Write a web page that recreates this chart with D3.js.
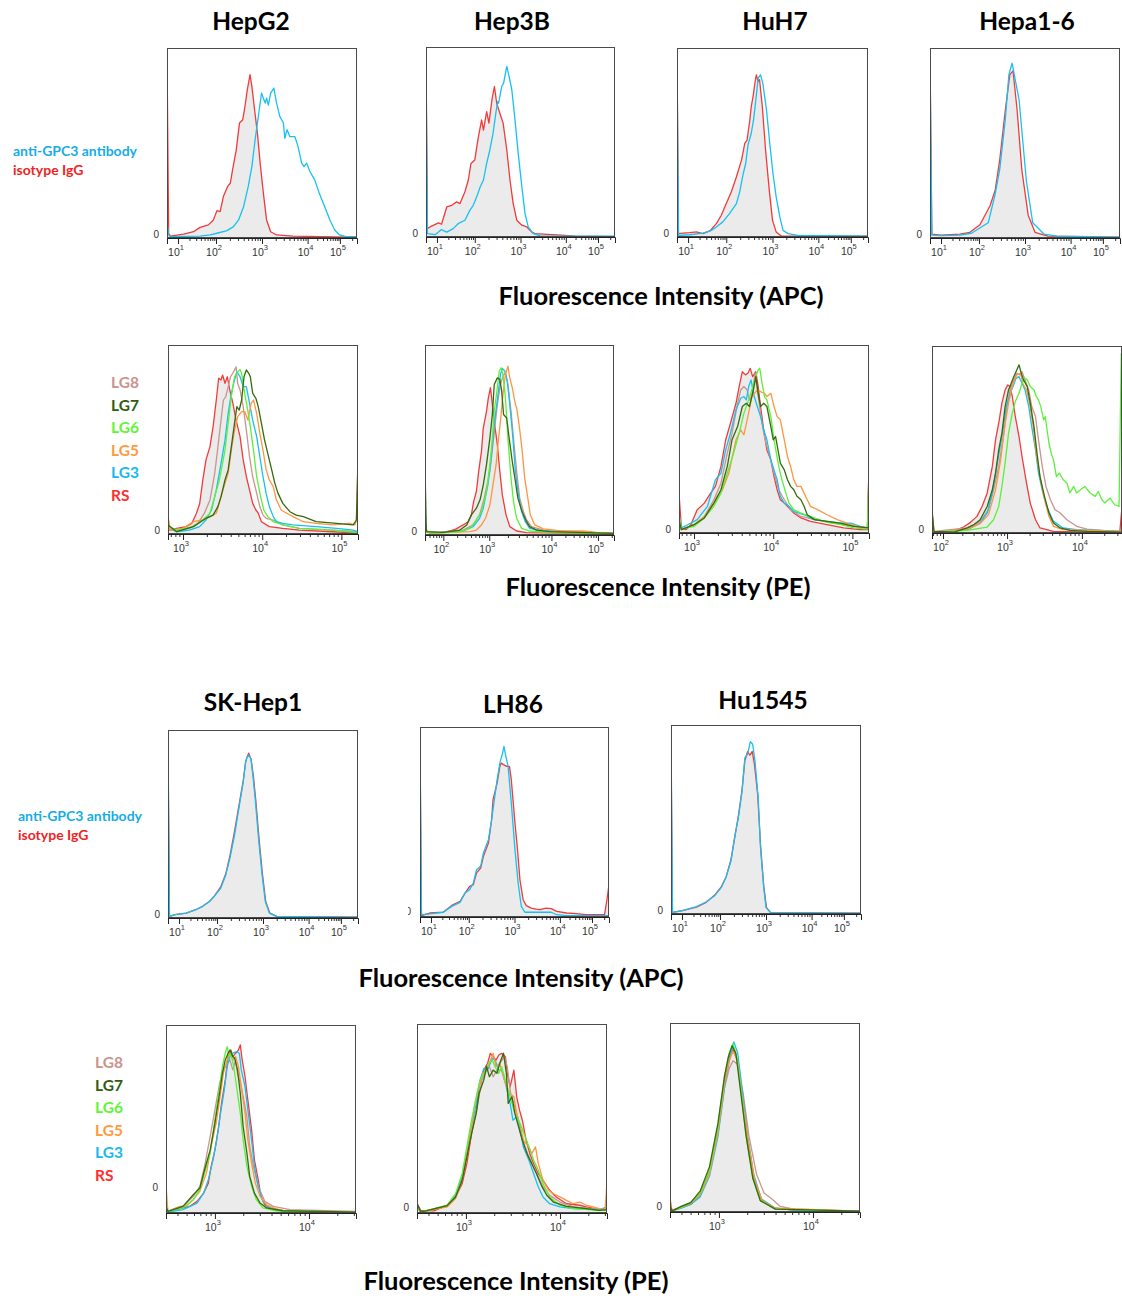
<!DOCTYPE html>
<html><head><meta charset="utf-8">
<script src="https://cdn.jsdelivr.net/npm/d3@7"></script>
<style>
html,body{margin:0;padding:0;background:#fff;}
svg{display:block;}
</style></head><body>
<script>
// Histogram traces: each point is [log10 fluorescence intensity, % of mode].

// ---- APC staining (anti-GPC3 antibody vs isotype IgG) ----
const hepg2Iso = [[0.7,96.5],[0.745,2.5],[0.79,1],[1.15,2],[1.41,3.3],[1.58,5.6],[1.8,6.9],[1.93,9.5],[2.02,14.4],[2.09,13.9],[2.16,21.8],[2.25,27],[2.31,28.8],[2.36,35.9],[2.44,46.4],[2.51,60.5],[2.58,62.2],[2.63,69.2],[2.68,78],[2.74,86],[2.78,79.8],[2.83,69.2],[2.9,55.2],[2.96,39.4],[3.03,23.6],[3.1,9.5],[3.19,3.3],[3.32,1.6],[3.68,1],[5.23,0.5],[5.42,0.5]];
const hepg2Anti = [[0.7,8.6],[0.745,1.6],[0.79,0.7],[1.58,1],[1.85,1.6],[2.02,2.5],[2.24,3.9],[2.38,6],[2.49,9.5],[2.6,16.5],[2.7,27],[2.78,37.6],[2.85,51.7],[2.92,64],[2.99,76.3],[3.03,73.6],[3.07,71],[3.1,73.6],[3.14,70],[3.19,76.3],[3.26,78.9],[3.32,71],[3.39,64],[3.47,60.5],[3.5,52.5],[3.55,57],[3.61,53.4],[3.72,53.4],[3.79,48.2],[3.87,39.4],[3.92,37.6],[3.98,39.4],[4.07,35],[4.22,30.6],[4.38,22.7],[4.53,16.5],[4.69,9.5],[4.84,4.2],[4.99,1.6],[5.15,0.7],[5.42,0.7]];
const hep3bIso = [[0.7,96],[0.74,4.4],[0.81,5.3],[1.04,7.4],[1.12,6.7],[1.26,15.8],[1.39,16.7],[1.52,18.5],[1.61,17.6],[1.74,23.8],[1.83,30],[1.9,38.7],[2.0,40.5],[2.08,52.8],[2.15,61.6],[2.19,56.3],[2.26,66],[2.31,59.9],[2.38,73],[2.43,79.2],[2.48,70.4],[2.55,65],[2.62,59.9],[2.7,45.8],[2.77,30],[2.84,17.6],[2.92,8.8],[3.03,6.2],[3.14,5.3],[3.25,2.6],[3.32,1.8],[3.61,1.4],[3.98,0.9],[4.28,0.4],[5.42,0.2]];
const hep3bAnti = [[0.7,90],[0.74,1.8],[0.95,1.2],[1.12,3.9],[1.26,2.6],[1.43,4.4],[1.56,7],[1.74,8.8],[1.87,14],[1.96,16.7],[2.04,21],[2.12,26.4],[2.19,30],[2.26,38.7],[2.33,45.8],[2.4,54.6],[2.46,65],[2.5,71.3],[2.52,70.4],[2.59,79.2],[2.63,81],[2.7,89.8],[2.75,84.5],[2.81,77.5],[2.88,61.6],[2.95,44],[3.03,26.4],[3.1,12.3],[3.17,5.3],[3.28,1.8],[3.45,0.5],[5.42,0.4]];
const huh7Iso = [[0.7,97],[0.74,1.8],[0.86,2.1],[1.04,2.3],[1.22,2.7],[1.39,1.8],[1.57,3.2],[1.74,7.1],[1.87,11.5],[2.0,17.7],[2.11,23.9],[2.22,31.9],[2.33,40.7],[2.4,49.6],[2.45,51.3],[2.51,62],[2.54,69],[2.58,74.3],[2.62,81.4],[2.65,85.8],[2.69,82.3],[2.72,83.2],[2.78,69],[2.85,46],[2.93,24.8],[3.0,8.8],[3.08,2.7],[3.2,0.4],[3.44,0.5],[5.42,0.4]];
const huh7Anti = [[0.7,95],[0.74,0.9],[1.04,1.2],[1.39,2.1],[1.61,3.5],[1.74,5.3],[1.91,8],[2.07,12.4],[2.22,17.7],[2.29,23.9],[2.36,32.7],[2.42,38.9],[2.47,48.7],[2.54,54.9],[2.59,62],[2.64,72.6],[2.69,84],[2.74,85.8],[2.79,81.4],[2.87,67.3],[2.94,49.6],[3.01,33.6],[3.08,21.2],[3.16,10.6],[3.23,3.5],[3.34,1.8],[3.55,0.9],[5.42,0.5]];
const hepa16Iso = [[0.7,96],[0.75,2],[1.0,1.5],[1.5,2],[1.76,3],[2.02,7],[2.24,17],[2.35,25],[2.45,41],[2.57,67],[2.67,86],[2.74,88],[2.83,67],[2.93,36],[3.07,12],[3.22,3],[3.5,1],[5.42,0.5]];
const hepa16Anti = [[0.7,95],[0.75,1.5],[1.0,1.2],[1.5,1.5],[1.8,2.5],[2.2,8],[2.35,23],[2.45,36],[2.57,62],[2.65,86],[2.72,92],[2.79,83],[2.87,73],[3.03,30],[3.17,8],[3.42,2],[3.7,1],[5.42,0.5]];
const skhep1Iso = [[0.7,90],[0.74,0.9],[0.89,1.8],[1.19,2.6],[1.44,4.4],[1.62,6.2],[1.8,8.8],[1.92,11.4],[2.08,16.5],[2.19,23.5],[2.28,33],[2.38,46],[2.45,56],[2.52,66],[2.57,73],[2.62,82.7],[2.65,85.4],[2.69,87.7],[2.74,84.5],[2.79,75.7],[2.84,63.4],[2.92,40.5],[2.99,22.9],[3.06,8.8],[3.15,2.6],[3.3,0.9],[5.42,0.5]];
const skhep1Anti = [[0.7,97],[0.74,0.9],[0.89,1.8],[1.19,2.6],[1.44,4.4],[1.62,6.2],[1.8,8.8],[1.92,11.4],[2.08,15.8],[2.19,22.9],[2.28,31.7],[2.38,44],[2.45,54.6],[2.52,65],[2.57,72.2],[2.62,82.7],[2.65,85.4],[2.69,86.6],[2.74,84.5],[2.78,75.7],[2.83,63.4],[2.91,40.5],[2.98,22.9],[3.05,8.8],[3.14,2.6],[3.3,0.9],[5.42,0.5]];
const lh86Iso = [[0.7,90],[0.74,0.7],[0.97,2.1],[1.33,2.6],[1.55,6.1],[1.77,8.2],[1.9,12.6],[2.02,16.1],[2.1,17],[2.17,23.2],[2.26,25.8],[2.32,31.9],[2.43,38.9],[2.5,51.2],[2.53,61.8],[2.62,70.5],[2.68,79.3],[2.71,81],[2.76,80.2],[2.83,79.3],[2.89,79.3],[2.93,72.3],[3.01,49.5],[3.06,37.2],[3.12,19.6],[3.19,9.1],[3.26,6],[3.37,4.7],[3.48,4.2],[3.56,3.9],[3.7,4.7],[3.81,4.4],[3.93,3],[4.21,2.1],[4.51,1.8],[4.82,1.2],[5.31,1.2],[5.37,9.1],[5.42,17]];
const lh86Anti = [[0.7,97],[0.74,1.2],[0.97,1.6],[1.33,2.5],[1.55,5.6],[1.77,7.7],[1.9,12.6],[2.02,14.4],[2.1,17.9],[2.17,24.9],[2.26,26.7],[2.32,33.7],[2.43,40.7],[2.5,51.2],[2.57,63.5],[2.62,72.3],[2.68,81],[2.74,86.3],[2.77,89.8],[2.81,84.6],[2.86,79.3],[2.93,60],[3.01,35.4],[3.08,17.9],[3.15,5.6],[3.23,2.5],[3.48,2.5],[3.7,2.6],[3.81,2.5],[3.93,1.2],[4.2,0.7],[5.42,0.7]];
const hu1545Iso = [[0.7,90],[0.74,0.9],[1.01,1.8],[1.38,3.6],[1.62,6],[1.86,10],[2.03,14.5],[2.13,19.4],[2.24,29],[2.33,42],[2.4,52],[2.48,66],[2.54,81],[2.6,86],[2.65,84],[2.7,86],[2.75,79],[2.82,63],[2.88,37],[2.95,15],[3.01,3.5],[3.1,0.7],[5.42,0.5]];
const hu1545Anti = [[0.7,97],[0.74,0.9],[1.01,1.8],[1.38,3.9],[1.62,6.2],[1.86,9.7],[2.03,14.1],[2.13,19.4],[2.24,28.2],[2.33,42.3],[2.4,51],[2.48,65],[2.54,82.7],[2.6,84.5],[2.66,91.2],[2.71,89.8],[2.76,81],[2.83,61.6],[2.88,35.2],[2.95,14.1],[3.0,3.5],[3.1,0.7],[5.42,0.5]];

// ---- PE staining, panel row A (HepG2 / Hep3B / HuH7 / Hepa1-6) ----
const hepg2RS = [[2.81,9],[2.83,2],[2.92,3],[3.04,3.9],[3.11,5.6],[3.17,11],[3.21,16],[3.25,28.6],[3.29,39.2],[3.34,46.2],[3.38,56.8],[3.42,70.9],[3.45,82.4],[3.48,81.5],[3.5,84.1],[3.53,79.7],[3.56,83.2],[3.59,76.2],[3.63,69.1],[3.67,60.3],[3.72,51.5],[3.76,39.2],[3.8,30.3],[3.84,23.3],[3.88,16.2],[3.92,12.7],[3.95,11],[3.99,6.5],[4.09,3.9],[4.26,3],[4.47,2.1],[4.89,1.2],[5.1,0.7],[5.21,0.7]];
const hepg2LG8 = [[2.81,3.9],[2.92,2],[3.08,3],[3.19,5.6],[3.27,11],[3.34,18],[3.4,32],[3.44,46],[3.48,60.3],[3.51,70.9],[3.54,72.7],[3.57,78],[3.6,83.2],[3.64,85.9],[3.67,88.5],[3.69,79.7],[3.72,76.2],[3.76,67.4],[3.8,55],[3.84,40.9],[3.88,30.3],[3.93,21.5],[3.97,14.5],[4.01,10],[4.05,8.3],[4.14,7.4],[4.26,4.8],[4.47,3],[4.89,2.1],[5.21,1.2]];
const hepg2LG3 = [[2.81,3],[2.92,1.2],[3.08,2],[3.21,3.9],[3.29,7.4],[3.36,12.7],[3.42,23.3],[3.48,37.4],[3.53,49.7],[3.57,63.8],[3.61,74.4],[3.65,81.5],[3.68,85.9],[3.72,83.2],[3.76,78],[3.8,78],[3.84,69.1],[3.88,60.3],[3.93,51.5],[3.97,40.9],[4.01,30.3],[4.05,21.5],[4.09,14.5],[4.14,9.2],[4.18,6.5],[4.26,5.6],[4.39,4.8],[4.68,3.9],[4.94,3],[5.15,2],[5.21,1.2]];
const hepg2LG6 = [[2.81,3.9],[2.92,2],[3.13,3.9],[3.25,7.4],[3.34,11],[3.4,19.8],[3.46,28.6],[3.53,44.4],[3.57,58.5],[3.61,72.7],[3.65,83.2],[3.69,85.9],[3.72,87.1],[3.74,85],[3.77,76.2],[3.81,67.4],[3.85,56.8],[3.89,44.4],[3.93,30.3],[3.98,19.8],[4.02,12.7],[4.07,9.2],[4.14,6.5],[4.26,4.8],[4.47,3],[4.89,2.1],[5.1,1.2],[5.21,0.7]];
const hepg2LG5 = [[2.81,11],[2.83,2],[3.0,3],[3.13,6.5],[3.25,7.4],[3.34,9.2],[3.42,11],[3.48,19.8],[3.53,26.8],[3.57,32.1],[3.61,44.4],[3.65,55],[3.69,62.1],[3.74,64.7],[3.78,64.7],[3.82,60.3],[3.86,69.1],[3.89,70.9],[3.93,63.8],[3.97,53.3],[4.01,44.4],[4.05,33.9],[4.09,28.6],[4.14,25],[4.18,18],[4.24,12.7],[4.31,11],[4.39,9.2],[4.52,6.5],[4.68,5.6],[4.89,4.8],[5.1,5.6],[5.17,4.8],[5.19,7.4],[5.21,42.7]];
const hepg2LG7 = [[2.81,4.8],[2.92,1.2],[3.13,3.9],[3.29,8.3],[3.38,10],[3.44,14.5],[3.48,19.8],[3.53,28.6],[3.57,33.9],[3.61,46.2],[3.65,58.5],[3.68,67.4],[3.71,65.6],[3.74,70.9],[3.77,83.2],[3.8,86.8],[3.83,85],[3.85,83.2],[3.88,74.4],[3.92,71.8],[3.95,67.4],[3.99,58.5],[4.03,49.7],[4.07,42.7],[4.12,33.9],[4.16,26.8],[4.2,21.5],[4.26,16.2],[4.35,11.8],[4.43,10],[4.52,9.2],[4.68,6.5],[4.94,5.6],[5.15,4.8],[5.19,7.4],[5.21,37.4]];

const hep3bRS = [[1.6,5],[1.65,1.4],[2.0,1.4],[2.14,2.1],[2.28,3.2],[2.43,5.3],[2.54,7],[2.61,10.6],[2.66,17.6],[2.72,22.9],[2.77,33.5],[2.83,44],[2.87,56.3],[2.94,65.1],[2.98,72.2],[3.02,77.5],[3.05,68.7],[3.08,59.9],[3.13,47.5],[3.17,33.5],[3.21,21.1],[3.27,10.6],[3.33,4.4],[3.44,2.1],[3.6,1.2],[5.35,0.7]];
const hep3bLG8 = [[1.6,2.6],[1.71,0.9],[2.43,2.6],[2.65,5.3],[2.79,10.6],[2.89,19.4],[3.01,33.5],[3.07,51],[3.13,68.7],[3.18,79.2],[3.22,83.6],[3.26,85.4],[3.3,79.2],[3.35,65.1],[3.39,51],[3.44,33.5],[3.49,19.4],[3.55,12.3],[3.6,7.9],[3.68,4.4],[3.87,2.6],[4.39,1.8],[5.35,0.9]];
const hep3bLG3 = [[1.6,2.6],[1.71,0.9],[2.43,2.1],[2.65,4.4],[2.79,8.8],[2.87,14.1],[2.97,26.4],[3.03,40.5],[3.08,58.1],[3.14,73.9],[3.18,84.5],[3.21,87.7],[3.25,86.3],[3.29,81],[3.33,68.7],[3.38,51],[3.42,33.5],[3.47,21.1],[3.52,12.3],[3.58,7],[3.65,3.5],[3.87,2.1],[5.35,0.9]];
const hep3bLG6 = [[1.6,3.5],[1.71,0.9],[2.36,1.8],[2.58,3.5],[2.72,7.9],[2.83,12.3],[2.94,22.9],[3.01,37],[3.05,51],[3.08,65.1],[3.13,77.5],[3.16,86.3],[3.19,88],[3.22,84.5],[3.26,72.2],[3.3,51],[3.35,29.9],[3.39,17.6],[3.44,8.8],[3.52,3.5],[3.65,2.1],[3.97,1.4],[5.35,0.7]];
const hep3bLG5 = [[1.6,2.6],[1.71,0.9],[2.58,1.8],[2.72,2.6],[2.83,5.3],[2.92,8.8],[3.01,15.8],[3.06,26.4],[3.11,37],[3.14,47.5],[3.18,59.9],[3.22,73.9],[3.26,84.5],[3.3,88.9],[3.33,82.7],[3.37,77.5],[3.42,68.7],[3.44,67],[3.48,58.1],[3.53,44],[3.57,29.9],[3.62,19.4],[3.66,10.6],[3.73,5.3],[3.87,3.2],[4.21,2.1],[4.68,2.1],[4.97,1.4],[5.35,0.9]];
const hep3bLG7 = [[1.6,35],[1.63,1.8],[2.0,1.4],[2.36,2.6],[2.51,5.3],[2.61,10.6],[2.72,14.1],[2.8,18.5],[2.87,26.4],[2.94,37],[3.01,51],[3.05,63.4],[3.08,79.2],[3.13,82.7],[3.17,81.9],[3.2,75.7],[3.23,63.4],[3.28,61.6],[3.32,51],[3.37,38.7],[3.42,28.2],[3.46,19.4],[3.51,14.1],[3.55,10.6],[3.6,7],[3.65,4.4],[3.76,2.6],[3.97,1.8],[5.35,0.9]];

const huh7RS = [[2.81,21],[2.84,2.7],[2.9,1.8],[2.96,4.4],[3.04,12.4],[3.13,15.9],[3.21,21.2],[3.27,24.8],[3.34,35.4],[3.4,49.6],[3.46,58.4],[3.53,69],[3.57,77.9],[3.61,85.8],[3.65,84.1],[3.68,85],[3.71,87.6],[3.74,83.2],[3.78,85.8],[3.81,77.9],[3.84,67.3],[3.88,54.9],[3.92,44.2],[3.97,38.9],[4.01,30.1],[4.05,23],[4.09,17.7],[4.14,15.9],[4.18,14.2],[4.26,10.6],[4.35,8],[4.47,6.2],[4.68,4.4],[4.89,2.7],[5.1,1.8],[5.19,1.8],[5.21,35]];
const huh7LG8 = [[2.81,7],[2.84,1.8],[3.0,4.4],[3.13,8.8],[3.25,17.7],[3.34,26.5],[3.42,42.5],[3.48,53.1],[3.55,69],[3.59,76.1],[3.63,77.9],[3.67,76.1],[3.7,70.8],[3.73,72.6],[3.77,85],[3.8,76.1],[3.84,63.7],[3.88,53.1],[3.92,46],[3.97,38.9],[4.01,31.9],[4.07,23],[4.14,17.7],[4.22,12.4],[4.35,8.8],[4.52,7.1],[4.77,5.3],[5.02,3.5],[5.19,2.7],[5.21,28.3]];
const huh7LG3 = [[2.81,10.6],[2.84,2.7],[2.92,4.4],[3.04,7.1],[3.17,14.2],[3.27,28.3],[3.34,31.9],[3.4,44.2],[3.46,53.1],[3.53,65.5],[3.59,71.7],[3.63,72.6],[3.66,70.8],[3.69,77.9],[3.72,81.4],[3.76,72.6],[3.8,67.3],[3.84,62],[3.88,54.9],[3.92,49.6],[3.97,38.9],[4.01,33.6],[4.05,28.3],[4.09,19.5],[4.14,15.9],[4.2,14.2],[4.26,11.5],[4.39,9.7],[4.52,7.1],[4.68,6.2],[4.85,5.3],[4.98,5.3],[5.1,3.5],[5.19,2.7],[5.21,31.9]];
const huh7LG6 = [[2.81,8.8],[2.84,2.1],[3.0,3.5],[3.13,8],[3.25,14.2],[3.34,21.2],[3.42,31.9],[3.5,42.5],[3.57,53.1],[3.63,63.7],[3.69,70.8],[3.73,76.1],[3.78,83.2],[3.81,86.7],[3.83,87.6],[3.86,79.6],[3.89,72.6],[3.92,70.8],[3.97,61.9],[4.01,49.6],[4.04,42.5],[4.07,35.4],[4.11,28.3],[4.16,21.2],[4.2,15.9],[4.26,12.4],[4.35,10.6],[4.52,8],[4.68,5.7],[4.85,4.4],[5.02,2.7],[5.19,2.1],[5.21,28.3]];
const huh7LG5 = [[2.81,8.8],[2.84,1.8],[3.0,4.4],[3.13,8.8],[3.25,15.9],[3.36,23],[3.44,31.9],[3.53,49.6],[3.59,54.9],[3.63,52.2],[3.68,61.9],[3.73,72.6],[3.8,76.1],[3.84,75.2],[3.89,74.3],[3.92,72.6],[3.97,74.3],[4.01,67.3],[4.05,61.9],[4.09,60.2],[4.14,49.6],[4.18,40.7],[4.22,35.4],[4.26,28.3],[4.3,24.8],[4.35,24.8],[4.39,21.2],[4.43,17.7],[4.47,14.2],[4.56,12.4],[4.68,9.7],[4.81,7.1],[4.98,4.4],[5.15,2.7],[5.19,2.7],[5.21,35]];
const huh7LG7 = [[2.81,7],[2.84,1.8],[3.0,4.4],[3.13,8],[3.25,15.9],[3.34,23],[3.42,35.4],[3.48,49.6],[3.55,56.6],[3.61,67.3],[3.66,69],[3.7,67.3],[3.75,76.1],[3.78,83.2],[3.81,74.3],[3.84,67.3],[3.88,69],[3.92,67.3],[3.97,56.6],[4.0,49.6],[4.03,51.3],[4.06,44.2],[4.09,37.2],[4.14,33.6],[4.18,28.3],[4.22,24.8],[4.26,23],[4.3,19.5],[4.35,17.7],[4.39,14.2],[4.43,9.7],[4.52,7.1],[4.68,6.2],[4.85,5.3],[5.02,3.5],[5.21,2.7]];

const hepa16RS = [[1.83,11.6],[1.86,0.9],[2.07,0.4],[2.22,1.8],[2.32,3.2],[2.43,5.7],[2.53,8.9],[2.61,14.2],[2.69,21.4],[2.77,35.6],[2.82,49.8],[2.87,58.7],[2.92,69.4],[2.97,76.5],[3.01,79.2],[3.04,78.3],[3.07,73],[3.11,62.3],[3.16,51.6],[3.2,40.9],[3.26,26.7],[3.31,16],[3.38,7.1],[3.44,2.7],[3.62,0.9],[4.07,0.5],[4.51,0.4],[4.54,14]];
const hepa16LG8 = [[1.83,7],[1.86,0.9],[2.38,2.7],[2.58,6.2],[2.71,12.5],[2.79,23.1],[2.87,35.6],[2.95,53.4],[3.0,67.6],[3.04,76.5],[3.09,81.9],[3.13,85.4],[3.17,84.5],[3.2,86.3],[3.24,81.9],[3.29,76.5],[3.33,67.6],[3.38,62.3],[3.42,49.8],[3.47,35.6],[3.52,24.9],[3.58,17.8],[3.64,12.5],[3.71,10.7],[3.8,7.1],[3.93,3.6],[4.07,2.1],[4.29,1.4],[4.51,0.9],[4.54,2]];
const hepa16LG3 = [[1.83,3.6],[1.86,0.5],[2.38,1.8],[2.58,5.3],[2.69,10.7],[2.77,21.4],[2.84,35.6],[2.92,51.6],[2.99,67.6],[3.04,74.7],[3.08,78.3],[3.12,82.7],[3.16,83.6],[3.2,80.1],[3.24,76.5],[3.29,67.6],[3.33,56.9],[3.38,44.5],[3.42,32],[3.47,23.1],[3.53,14.2],[3.62,6.2],[3.75,2.7],[3.93,1.8],[4.51,0.9],[4.54,2]];
const hepa16LG6 = [[1.83,2.7],[1.86,0.5],[2.38,1.4],[2.69,3.2],[2.79,7.1],[2.87,14.2],[2.92,24.9],[2.97,37.4],[3.02,53.4],[3.07,64.1],[3.11,70.3],[3.16,74.7],[3.2,80.1],[3.24,82.7],[3.27,81.9],[3.31,78.3],[3.36,76.5],[3.39,73],[3.42,71.2],[3.45,67.6],[3.49,60.5],[3.51,62.3],[3.56,48],[3.59,42.7],[3.62,39.1],[3.66,30.2],[3.7,32],[3.75,28.5],[3.8,26.7],[3.84,21.4],[3.89,24.9],[3.93,21.4],[3.98,23.1],[4.04,24.9],[4.11,21.4],[4.18,19.6],[4.22,22.2],[4.27,17.8],[4.31,16],[4.38,18.7],[4.44,15.1],[4.5,14.2],[4.53,96],[4.54,96]];
const hepa16LG5 = [[1.83,3.6],[1.86,0.5],[2.38,2.1],[2.58,5],[2.71,9.8],[2.82,23.1],[2.9,39.1],[2.97,58.7],[3.02,69.4],[3.08,80.1],[3.13,84.5],[3.18,85.4],[3.21,80.1],[3.26,76.5],[3.3,69.4],[3.35,56.9],[3.39,42.7],[3.44,30.2],[3.49,19.6],[3.56,8.9],[3.62,3.6],[3.75,1.8],[4.51,0.9],[4.54,2]];
const hepa16LG7 = [[1.83,12.5],[1.86,0.9],[2.17,0.5],[2.38,2.7],[2.48,4.4],[2.58,7.1],[2.69,14.2],[2.77,23.1],[2.82,32],[2.87,44.5],[2.92,53.4],[2.97,67.6],[3.02,76.5],[3.09,83.6],[3.13,87.2],[3.16,89.9],[3.19,85.4],[3.22,81.9],[3.27,78.3],[3.31,69.4],[3.36,56.9],[3.4,42.7],[3.44,30.2],[3.5,19.6],[3.56,10.7],[3.62,5.3],[3.71,2.7],[3.84,1.4],[4.07,0.9],[4.54,0.4]];

// ---- PE staining, panel row B (SK-Hep1 / LH86 / Hu1545) ----
const skhep1RS = [[2.48,5.3],[2.5,0.9],[2.59,1.8],[2.66,2.7],[2.73,3.5],[2.81,6.2],[2.88,10.6],[2.93,15.9],[2.96,24.8],[3.0,33.6],[3.04,46],[3.07,58.4],[3.11,70.8],[3.14,83.2],[3.17,86.7],[3.19,83.2],[3.22,85],[3.25,86.7],[3.27,89.4],[3.29,81.4],[3.32,72.6],[3.35,60.2],[3.39,44.2],[3.42,28.3],[3.46,17.7],[3.49,8.8],[3.53,4.4],[3.58,2.7],[3.65,1.8],[3.8,0.9],[4.5,0.5]];
const skhep1LG8 = [[2.48,4.4],[2.5,0.9],[2.59,2.7],[2.66,3.5],[2.77,8.8],[2.84,14.2],[2.89,24.8],[2.95,40.7],[3.0,54.9],[3.05,69],[3.09,76.1],[3.12,78.8],[3.16,81.4],[3.19,76.1],[3.22,81.4],[3.24,74.3],[3.28,67.3],[3.34,51.3],[3.37,35.4],[3.41,24.8],[3.46,14.2],[3.53,6.2],[3.62,3.5],[3.8,1.8],[4.5,0.9]];
const skhep1LG3 = [[2.48,3.5],[2.5,0.5],[2.66,1.8],[2.81,5.3],[2.88,10.6],[2.93,17.7],[2.98,28.3],[3.02,38.9],[3.06,53.1],[3.1,65.5],[3.13,77.9],[3.16,83.2],[3.19,85],[3.23,85.8],[3.26,85],[3.28,76.1],[3.32,67.3],[3.35,54.9],[3.39,38.9],[3.42,24.8],[3.46,14.2],[3.51,6.2],[3.58,2.7],[3.72,0.9],[4.5,0.5]];
const skhep1LG6 = [[2.48,4.4],[2.5,0.9],[2.66,2.7],[2.77,7.1],[2.84,12.4],[2.89,21.2],[2.95,31.9],[3.0,49.6],[3.05,67.3],[3.08,77.9],[3.11,85],[3.13,88.5],[3.15,83.2],[3.17,85],[3.2,77.9],[3.23,67.3],[3.27,53.1],[3.3,38.9],[3.34,24.8],[3.39,14.2],[3.44,7.1],[3.51,2.7],[3.65,1.2],[4.5,0.5]];
const skhep1LG5 = [[2.48,15],[2.5,0.9],[2.56,2.1],[2.63,3.5],[2.7,3.9],[2.77,7.1],[2.84,11.5],[2.91,21.2],[2.96,35.4],[3.02,49.6],[3.06,63.7],[3.09,74.3],[3.13,81.4],[3.16,85],[3.19,81.4],[3.22,83.2],[3.25,77.9],[3.28,67.3],[3.32,53.1],[3.35,38.9],[3.39,26.5],[3.43,15.9],[3.48,8.8],[3.55,4.4],[3.62,2.7],[3.72,1.4],[3.9,0.9],[4.5,0.5]];
const skhep1LG7 = [[2.48,3.5],[2.5,0.9],[2.66,3.5],[2.77,9.7],[2.84,13.3],[2.89,23],[2.95,33.6],[3.0,47.8],[3.05,63.7],[3.08,74.3],[3.11,81.4],[3.14,85],[3.16,86.7],[3.19,83.2],[3.21,82.3],[3.24,76.1],[3.27,63.7],[3.3,46],[3.34,31.9],[3.37,19.5],[3.42,10.6],[3.48,5.3],[3.55,2.7],[3.72,1.2],[4.5,0.5]];

const lh86RS = [[2.48,5],[2.52,1.4],[2.66,1.1],[2.8,4.1],[2.89,8.5],[2.96,15.5],[3.01,26.1],[3.06,42],[3.11,54.4],[3.14,66.8],[3.19,75.6],[3.23,79.2],[3.26,84.5],[3.29,82.7],[3.32,80.9],[3.35,83.6],[3.38,84.5],[3.42,82.7],[3.44,73.9],[3.47,66.8],[3.51,75.6],[3.54,61.5],[3.57,54.4],[3.6,49.1],[3.64,38.5],[3.68,31.4],[3.72,26.1],[3.77,20.8],[3.82,17.3],[3.89,12],[3.96,8.5],[4.07,4.9],[4.21,4.1],[4.28,3.2],[4.42,1.8],[4.48,1.4],[4.5,3.2]];
const lh86LG8 = [[2.48,4.1],[2.52,0.5],[2.8,3.9],[2.89,8.8],[2.96,18.2],[3.01,29.7],[3.06,42],[3.12,56.2],[3.17,70.3],[3.22,75.6],[3.25,77.4],[3.29,72.1],[3.33,75.6],[3.36,79.2],[3.41,82.7],[3.44,77.4],[3.48,61.5],[3.51,58],[3.55,50.9],[3.58,42],[3.63,35],[3.67,29.7],[3.72,24.4],[3.77,19.1],[3.82,13.8],[3.89,9.4],[4.0,5.8],[4.14,3.2],[4.35,2.3],[4.5,1.8]];
const lh86LG3 = [[2.48,3.2],[2.52,0.5],[2.8,3.5],[2.89,9.4],[2.96,19.1],[3.01,31.4],[3.06,45.6],[3.11,58],[3.15,70.3],[3.19,76.5],[3.23,75.6],[3.28,81.8],[3.31,80.9],[3.35,75.6],[3.38,75.6],[3.43,66.8],[3.47,58],[3.5,49.1],[3.54,50.9],[3.58,43.8],[3.61,35],[3.67,27.9],[3.72,20.8],[3.77,13.8],[3.82,8.5],[3.89,4.9],[4.0,3.2],[4.14,2.3],[4.42,1.8],[4.5,3.2]];
const lh86LG6 = [[2.48,3.2],[2.52,0.5],[2.8,4.1],[2.89,10.2],[2.96,20.8],[3.01,35],[3.06,49.1],[3.11,61.5],[3.15,70.3],[3.2,73.9],[3.24,79.2],[3.28,80.9],[3.31,77.4],[3.35,73.9],[3.38,77.4],[3.42,70.3],[3.45,65],[3.49,58],[3.52,52.7],[3.56,49.1],[3.59,45.6],[3.63,40.3],[3.67,35],[3.72,27.9],[3.77,22.6],[3.82,15.5],[3.89,8.5],[4.0,4.1],[4.14,2.3],[4.42,1.4],[4.5,1.4]];
const lh86LG5 = [[2.48,4.1],[2.52,0.5],[2.8,3.2],[2.89,7.6],[2.96,17.3],[3.01,31.4],[3.05,42],[3.09,56.2],[3.13,65],[3.18,73.9],[3.22,75.6],[3.25,79.2],[3.29,84.5],[3.32,77.4],[3.36,79.2],[3.39,73.9],[3.43,66.8],[3.47,63.3],[3.51,61.5],[3.54,52.7],[3.58,45.6],[3.61,38.5],[3.67,35],[3.7,31.4],[3.74,35],[3.77,26.1],[3.82,17.3],[3.88,12],[3.93,10.2],[4.0,8.5],[4.07,6.7],[4.14,4.9],[4.21,5.8],[4.28,4.1],[4.35,3.2],[4.42,2.3],[4.48,1.8],[4.5,16.4]];
const lh86LG7 = [[2.48,5],[2.52,0.5],[2.8,3.9],[2.89,8.5],[2.96,17.3],[3.01,29.7],[3.06,42],[3.11,52.7],[3.14,63.3],[3.19,70.3],[3.22,77.4],[3.25,72.1],[3.29,75.6],[3.33,73.9],[3.36,79.2],[3.4,84.5],[3.43,73.9],[3.45,58],[3.49,61.5],[3.52,52.7],[3.56,45.6],[3.6,38.5],[3.65,31.4],[3.7,26.1],[3.75,20.8],[3.81,13.8],[3.86,9.4],[3.93,5.8],[4.07,3.5],[4.28,2.3],[4.42,1.4],[4.5,1.8]];

const hu1545RS = [[2.48,6],[2.5,1],[2.6,2.5],[2.7,4],[2.8,9],[2.9,22],[2.99,43],[3.06,70],[3.11,82],[3.15,86],[3.2,80],[3.26,58],[3.31,36],[3.38,16],[3.46,6],[3.6,2],[3.8,1],[4.5,0.5]];
const hu1545LG8 = [[2.48,4],[2.5,0.5],[2.6,3],[2.7,5],[2.8,10],[2.9,21],[2.99,42],[3.06,66],[3.11,76],[3.15,80],[3.2,78],[3.26,62],[3.32,40],[3.4,20],[3.48,10],[3.56,7],[3.65,3],[3.8,1.5],[4.5,0.5]];
const hu1545LG3 = [[2.48,3],[2.5,0.5],[2.6,2],[2.7,4],[2.8,8],[2.9,19],[2.99,40],[3.06,66],[3.11,80],[3.16,90],[3.2,84],[3.25,64],[3.3,42],[3.37,20],[3.45,7],[3.6,2],[3.8,1],[4.5,0.5]];
const hu1545LG6 = [[2.48,4],[2.5,0.5],[2.6,2.5],[2.7,5],[2.8,10],[2.9,22],[2.99,45],[3.06,72],[3.11,84],[3.15,89],[3.19,82],[3.24,62],[3.29,40],[3.36,18],[3.44,6],[3.6,1.5],[4.5,0.5]];
const hu1545LG5 = [[2.48,8],[2.5,0.5],[2.6,2.5],[2.7,4.5],[2.8,9],[2.9,20],[2.99,42],[3.06,68],[3.11,80],[3.15,85],[3.2,80],[3.25,60],[3.31,38],[3.38,17],[3.46,6],[3.6,2],[4.5,0.5]];
const hu1545LG7 = [[2.48,4],[2.5,0.5],[2.6,3],[2.7,5],[2.8,11],[2.9,24],[2.99,47],[3.06,72],[3.1,82],[3.14,88],[3.18,84],[3.23,64],[3.29,40],[3.36,18],[3.44,6],[3.6,1.5],[4.5,0.5]];

// ---- text ----
const rowATitles = ["HepG2", "Hep3B", "HuH7", "Hepa1-6"];
const rowBTitles = ["SK-Hep1", "LH86", "Hu1545"];
const apcLegend = ["anti-GPC3 antibody", "isotype IgG"];
const peLegend = ["LG8", "LG7", "LG6", "LG5", "LG3", "RS"];
const apcTitle = "Fluorescence Intensity (APC)";
const peTitle = "Fluorescence Intensity (PE)";

// ---- styling ----
const lineColor = {anti:"#17c0f2", iso:"#f23a3a", RS:"#f23a3a", LG3:"#17c0f2", LG5:"#ff9540", LG6:"#5cf03a", LG7:"#356a0d", LG8:"#c9958f"};
const legendColor = {"anti-GPC3 antibody":"#17ace6", "isotype IgG":"#ee2424", LG8:"#c8948c", LG7:"#2f5c0e", LG6:"#62f536", LG5:"#ff9a3c", LG3:"#17b9f0", RS:"#ff2d2d"};

// Axis layouts (biexponential-style displays are piecewise in log space).
const axes = {
  apc:       {domain:[0.7,1,2,3,4,5,5.42], frac:[0,0.058,0.258,0.5,0.74,0.91,1], major:[1,2,3,4,5], minorFrom:1},
  peLog:     {domain:[2.81,5.21], frac:[0,1], major:[3,4,5], minorFrom:2},
  peBiex:    {domain:[1.6,2,3,4,5,5.35], frac:[0,0.097,0.34,0.669,0.915,1], major:[2,3,4,5], minorFrom:1},
  peBiexLow: {domain:[1.83,2,3,4,4.54], frac:[0,0.058,0.395,0.789,1], major:[2,3,4], minorFrom:1},
  peShort:   {domain:[2.48,4.5], frac:[0,1], major:[3,4], minorFrom:2}
};

const twoSeries = (iso, anti) => [["iso", iso], ["anti", anti]];
const sixSeries = (rs, lg8, lg3, lg5, lg6, lg7) => [["RS",rs],["LG8",lg8],["LG3",lg3],["LG5",lg5],["LG6",lg6],["LG7",lg7]];

const panels = [
  {x:167, y:48,  w:190, h:190, axis:"apc", series:twoSeries(hepg2Iso, hepg2Anti), zero:[-8,0]},
  {x:426, y:47,  w:189, h:190, axis:"apc", series:twoSeries(hep3bIso, hep3bAnti), zero:[-8,0]},
  {x:677, y:48,  w:191, h:189, axis:"apc", series:twoSeries(huh7Iso, huh7Anti), zero:[-8,0]},
  {x:930, y:48,  w:190, h:190, axis:"apc", series:twoSeries(hepa16Iso, hepa16Anti), zero:[-8,0]},

  {x:168, y:345, w:190, h:189, axis:"peLog", series:sixSeries(hepg2RS, hepg2LG8, hepg2LG3, hepg2LG5, hepg2LG6, hepg2LG7), zero:[-8,0]},
  {x:425, y:345, w:189, h:190, axis:"peBiex", series:sixSeries(hep3bRS, hep3bLG8, hep3bLG3, hep3bLG5, hep3bLG6, hep3bLG7), zero:[-8,0]},
  {x:679, y:345, w:190, h:188, axis:"peLog", series:sixSeries(huh7RS, huh7LG8, huh7LG3, huh7LG5, huh7LG6, huh7LG7), zero:[-8,0]},
  {x:932, y:346, w:190, h:187, axis:"peBiexLow", series:sixSeries(hepa16RS, hepa16LG8, hepa16LG3, hepa16LG5, hepa16LG6, hepa16LG7), zero:[-8,0]},

  {x:168, y:730, w:190, h:188, axis:"apc", series:twoSeries(skhep1Iso, skhep1Anti), zero:[-8,0]},
  {x:420, y:727, w:189, h:190, axis:"apc", series:twoSeries(lh86Iso, lh86Anti), zero:[-9,-2], zeroClip:true},
  {x:671, y:725, w:190, h:189, axis:"apc", series:twoSeries(hu1545Iso, hu1545Anti), zero:[-8,0]},

  {x:166, y:1025, w:190, h:188, axis:"peShort", series:sixSeries(skhep1RS, skhep1LG8, skhep1LG3, skhep1LG5, skhep1LG6, skhep1LG7), zero:[-8,-22]},
  {x:417, y:1024, w:190, h:189, axis:"peShort", series:sixSeries(lh86RS, lh86LG8, lh86LG3, lh86LG5, lh86LG6, lh86LG7), zero:[-8,-2]},
  {x:670, y:1023, w:190, h:189, axis:"peShort", series:sixSeries(hu1545RS, hu1545LG8, hu1545LG3, hu1545LG5, hu1545LG6, hu1545LG7), zero:[-8,-2]}
];

const svg = d3.select("body").append("svg")
  .attr("width", 1122).attr("height", 1298)
  .style("font-family", "Lato, 'Open Sans', sans-serif");

const defs = svg.append("defs");

panels.forEach((p, i) => {
  const ax = axes[p.axis];
  const x = d3.scaleLinear().domain(ax.domain).range(ax.frac.map(f => p.x + f * p.w));
  const y = d3.scaleLinear().domain([0, 100]).range([p.y + p.h, p.y]);
  const g = svg.append("g");

  defs.append("clipPath").attr("id", "clip" + i)
    .append("rect").attr("x", p.x).attr("y", p.y).attr("width", p.w).attr("height", p.h);

  g.append("rect").attr("x", p.x).attr("y", p.y).attr("width", p.w).attr("height", p.h)
    .attr("fill", "#fff");

  const plot = g.append("g").attr("clip-path", `url(#clip${i})`);
  const line = d3.line().x(d => x(d[0])).y(d => y(d[1]));
  const area = d3.area().x(d => x(d[0])).y0(y(0)).y1(d => y(d[1]));

  // shaded control histogram
  const control = p.series[0][1];
  plot.append("path").attr("d", area(control)).attr("fill", "#ebebeb").attr("stroke", "none");

  p.series.forEach(([key, data]) => {
    plot.append("path").attr("d", line(data))
      .attr("fill", "none").attr("stroke", lineColor[key])
      .attr("stroke-width", 1.3).attr("stroke-linejoin", "round");
  });

  g.append("rect").attr("x", p.x + 0.5).attr("y", p.y + 0.5).attr("width", p.w - 1).attr("height", p.h - 1)
    .attr("fill", "none").attr("stroke", "#4a4a4a").attr("stroke-width", 1);

  // bottom axis: minor and major ticks
  const d0 = ax.domain[0], d1 = ax.domain[ax.domain.length - 1];
  const minor = [];
  for (let k = Math.floor(d0); k <= Math.ceil(d1); k++) {
    if (k < ax.minorFrom) continue;
    for (let m = 2; m <= 9; m++) {
      const v = k + Math.log10(m);
      if (v > d0 && v < d1) minor.push(v);
    }
  }
  const base = p.y + p.h;
  g.append("g").attr("transform", `translate(0,${base})`)
    .call(d3.axisBottom(x).tickValues(minor).tickSize(3).tickFormat(""))
    .call(s => s.select(".domain").remove())
    .selectAll("line").attr("stroke", "#333");
  g.append("g").attr("transform", `translate(0,${base})`)
    .call(d3.axisBottom(x).tickValues(ax.major.concat([d0])).tickSize(6).tickFormat(""))
    .call(s => s.select(".domain").attr("stroke", "#222"))
    .selectAll("line").attr("stroke", "#222");

  // decade labels 10^k
  ax.major.forEach(k => {
    const t = g.append("text").attr("x", x(k) - 2).attr("y", base + 18)
      .attr("text-anchor", "middle").attr("fill", "#333")
      .style("font-family", "'Liberation Sans', Arial, sans-serif").style("font-size", "10.5px");
    t.append("tspan").text("10");
    t.append("tspan").attr("dy", -6).style("font-size", "7.5px").text(k);
  });

  // zero count label
  const z = g.append("text").attr("x", p.x + p.zero[0]).attr("y", base + p.zero[1])
    .attr("text-anchor", "end").attr("fill", "#333")
    .style("font-family", "'Liberation Sans', Arial, sans-serif").style("font-size", "10px")
    .text("0");
  if (p.zeroClip) {
    defs.append("clipPath").attr("id", "zclip" + i)
      .append("rect").attr("x", p.x - 12).attr("y", base - 20).attr("width", 9).attr("height", 30);
    z.attr("clip-path", `url(#zclip${i})`);
  }
});

// panel titles
const titleXA = [251, 512, 775, 1027];
rowATitles.forEach((t, i) => svg.append("text").attr("x", titleXA[i]).attr("y", 30)
  .attr("text-anchor", "middle").style("font-weight", "bold").style("font-size", "24.5px").text(t));
const titleXB = [253, 513, 763], titleYB = [711, 713, 709];
rowBTitles.forEach((t, i) => svg.append("text").attr("x", titleXB[i]).attr("y", titleYB[i])
  .attr("text-anchor", "middle").style("font-weight", "bold").style("font-size", "24.5px").text(t));

// axis titles
[[661, 305, apcTitle], [658, 596, peTitle], [521, 987, apcTitle], [516, 1290, peTitle]].forEach(([x, y, t]) =>
  svg.append("text").attr("x", x).attr("y", y).attr("text-anchor", "middle")
    .style("font-weight", "bold").style("font-size", "25.5px").text(t));

// legends
[[13, 156], [18, 821]].forEach(([x, y]) => apcLegend.forEach((t, i) =>
  svg.append("text").attr("x", x).attr("y", y + i * 19).attr("fill", legendColor[t])
    .style("font-weight", "bold").style("font-size", "14px").text(t)));
[[111, 388], [95, 1068]].forEach(([x, y]) => peLegend.forEach((t, i) =>
  svg.append("text").attr("x", x).attr("y", y + i * 22.6).attr("fill", legendColor[t])
    .style("font-weight", "bold").style("font-size", "15.5px").text(t)));
</script>
</body></html>
